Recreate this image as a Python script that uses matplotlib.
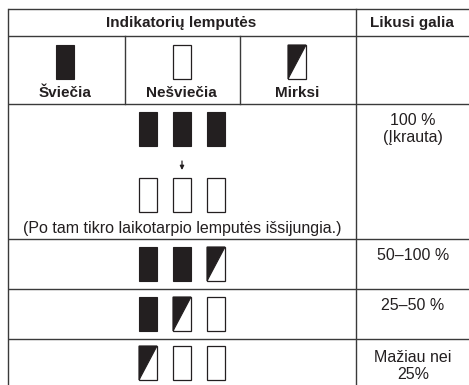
import matplotlib
matplotlib.use("Agg")
import matplotlib.pyplot as plt
from matplotlib.patches import Rectangle, Polygon

plt.rcParams['font.family'] = ['Liberation Sans', 'DejaVu Sans']

# ---- data ----
header_main = "Indikatorių lemputės"
header_right = "Likusi galia"
legend_labels = ["Šviečia", "Nešviečia", "Mirksi"]
legend_states = ["on", "off", "blink"]
full_top = ["on", "on", "on"]
full_bottom = ["off", "off", "off"]
full_note = "(Po tam tikro laikotarpio lemputės išsijungia.)"
full_label = "100 %\n(Įkrauta)"
row_states = [["on", "on", "blink"], ["on", "blink", "off"], ["blink", "off", "off"]]
row_labels = ["50–100 %", "25–50 %", "Mažiau nei\n25%"]

# ---- layout (pixel units) ----
W, H = 469, 385
INK = "#231f20"
LINE = "#3a3a3a"
fig = plt.figure(figsize=(W / 100, H / 100), dpi=100)
ax = fig.add_axes([0, 0, 1, 1])
ax.set_xlim(0, W)
ax.set_ylim(H, 0)
ax.axis("off")

x_left, x_div = 7.5, 355.5
col_divs = [124.5, 239.5]
y_lines = [9, 36, 104, 239, 288.5, 338.5]
BW, BH = 18, 34


def icon(cx, top, state, w=BW, h=BH):
    x0 = cx - w / 2
    if state == "on":
        ax.add_patch(Rectangle((x0, top), w, h, facecolor=INK, edgecolor=INK, lw=0.8))
    elif state == "off":
        ax.add_patch(Rectangle((x0, top), w, h, facecolor="white", edgecolor=INK, lw=0.9))
    else:
        ax.add_patch(Rectangle((x0, top), w, h, facecolor="white", edgecolor=INK, lw=0.9))
        ax.add_patch(Polygon([(x0, top), (x0 + w, top), (x0, top + h)],
                             closed=True, facecolor=INK, edgecolor=INK, lw=0.8))


# grid lines
for y in y_lines:
    ax.plot([x_left, W], [y, y], color=LINE, lw=1.0, solid_capstyle="butt")
ax.plot([x_left, x_left], [y_lines[0], H], color=LINE, lw=1.0)
ax.plot([x_div, x_div], [y_lines[0], H], color=LINE, lw=1.0)
for xd in col_divs:
    ax.plot([xd, xd], [y_lines[1], y_lines[2]], color=LINE, lw=1.0)

# header
ax.text((x_left + x_div) / 2, 23, header_main, ha="center", va="center",
        fontsize=11, fontweight="bold", color=INK)
ax.text(412, 23, header_right, ha="center", va="center",
        fontsize=11, fontweight="bold", color=INK)

# legend row
legend_cx = [65, 181.5, 297]
for cx, st, lab in zip(legend_cx, legend_states, legend_labels):
    icon(cx, 45, st)
    ax.text(cx, 93, lab, ha="center", va="center", fontsize=11,
            fontweight="bold", color=INK)

# rows
ic_cx = [148, 182, 216]
for cx, st in zip(ic_cx, full_top):
    icon(cx, 112, st)
ax.annotate("", xy=(ic_cx[1], 170), xytext=(ic_cx[1], 161),
            arrowprops=dict(arrowstyle="-|>", color=INK, lw=0.9,
                            mutation_scale=6, shrinkA=0, shrinkB=0))
for cx, st in zip(ic_cx, full_bottom):
    icon(cx, 178, st)
ax.text((x_left + x_div) / 2 + 0.5, 229, full_note, ha="center", va="center",
        fontsize=11.5, color=INK)
ax.text(413, 129, full_label, ha="center", va="center", fontsize=11.5,
        color=INK, linespacing=1.15)

row_tops = [247, 297, 346]
label_y = [255, 305, 366]
for top, states, lab, ly in zip(row_tops, row_states, row_labels, label_y):
    for cx, st in zip(ic_cx, states):
        icon(cx, top, st)
    ax.text(413, ly, lab, ha="center", va="center", fontsize=11.5,
            color=INK, linespacing=1.15)

fig.savefig("out.png", dpi=100, facecolor="white")
